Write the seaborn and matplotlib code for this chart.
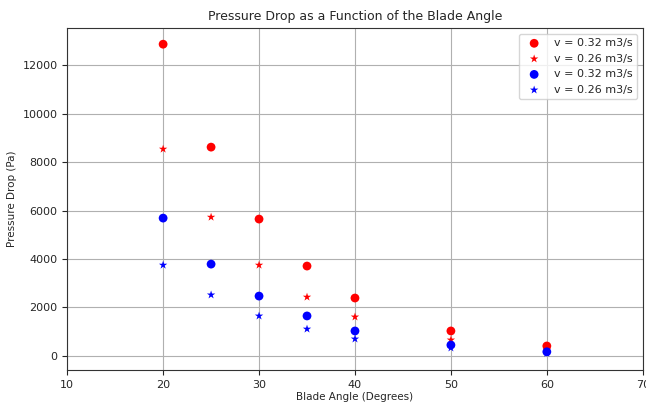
import pandas as pd
import matplotlib
matplotlib.use("Agg")
import matplotlib.pyplot as plt
import seaborn as sns

# Data
blade_angle = [20, 25, 30, 35, 40, 50, 60]
red_circle = [12870, 8620, 5650, 3710, 2390, 1030, 410]
red_star = [8540, 5730, 3750, 2430, 1610, 660, 250]
blue_circle = [5690, 3790, 2470, 1650, 1030, 450, 170]
blue_star = [3750, 2520, 1650, 1110, 700, 330, 110]

series = [
    ("v = 0.32 m3/s", red_circle, "red", "o", 40),
    ("v = 0.26 m3/s", red_star, "red", "*", 40),
    ("v = 0.32 m3/s", blue_circle, "blue", "o", 40),
    ("v = 0.26 m3/s", blue_star, "blue", "*", 40),
]

sns.set_style("ticks")
plt.rcParams["font.family"] = ["DejaVu Sans"]

fig = plt.figure(figsize=(6.46, 4.03), dpi=100)
ax = fig.add_axes([0.104, 0.082, 0.891, 0.848])

for label, values, color, marker, size in series:
    df = pd.DataFrame({"angle": blade_angle, "dp": values})
    sns.scatterplot(data=df, x="angle", y="dp", color=color, marker=marker,
                    s=size, edgecolor="none", label=label, ax=ax, zorder=3)

ax.set_xlim(10, 70)
ax.set_ylim(-580, 13530)
ax.set_yticks(range(0, 12001, 2000))
ax.grid(True, color="#b0b0b0", linewidth=0.8)
ax.set_axisbelow(True)
ax.tick_params(labelsize=8)
ax.set_title("Pressure Drop as a Function of the Blade Angle", fontsize=9)
ax.set_xlabel("Blade Angle (Degrees)", fontsize=7.5, labelpad=2)
ax.set_ylabel("Pressure Drop (Pa)", fontsize=7.5)
for sp in ax.spines.values():
    sp.set_visible(True)
    sp.set_color("#333333")
ax.legend(loc="upper right", fontsize=8, frameon=True, fancybox=True)

fig.savefig("out.png", dpi=100)
